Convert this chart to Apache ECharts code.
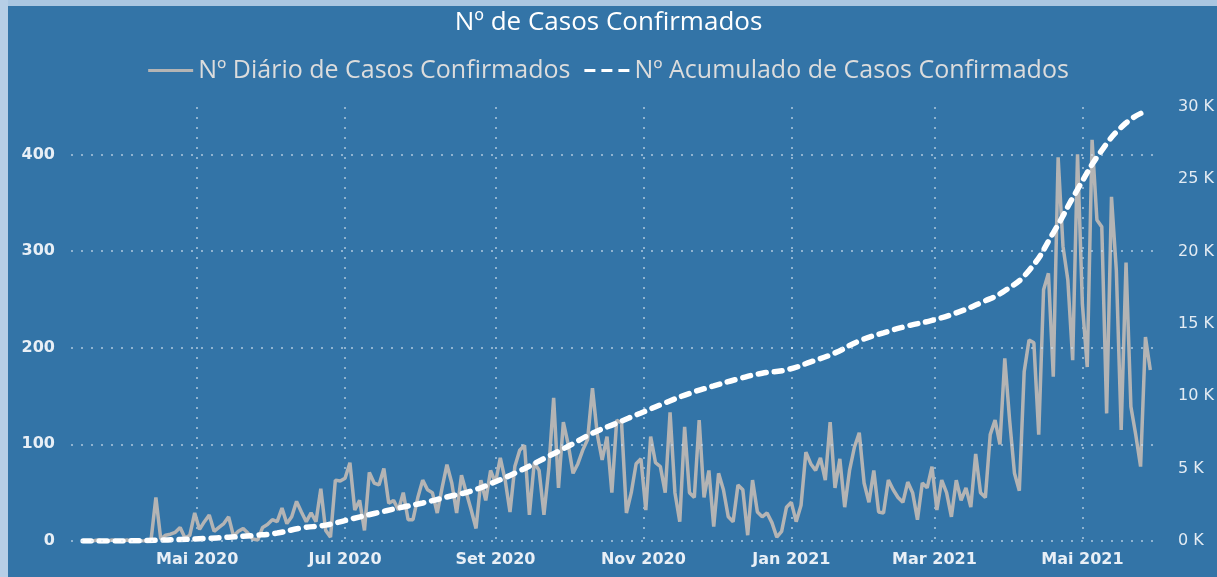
<!DOCTYPE html>
<html>
<head>
<meta charset="utf-8">
<title>Nº de Casos Confirmados</title>
<script src="https://cdn.jsdelivr.net/npm/echarts@6/dist/echarts.min.js"></script>
<style>
  html, body { margin: 0; padding: 0; background: #3374a7; }
  #chart { width: 1217px; height: 577px; }
</style>
</head>
<body>
<div id="chart"></div>
<script>
// daily cases, one value every 2 days starting 2020-03-15
const dailyStart = [2020, 2, 15]
const dailyStepDays = 2
const dailyValues = [
  0, 0, 0, 1, 0, 0, 1, 0, 0, 1, 0, 1, 0, 0, 1,
  45, 2, 6, 7, 9, 14, 3, 6, 29, 12, 20, 27, 10, 14, 18, 25, 5, 10,
  13, 8, 2, 1, 14, 17, 22, 20, 34, 18, 25, 41, 30, 20, 29, 20, 54, 11, 4,
  63, 62, 65, 81, 32, 42, 11, 71, 60, 58, 75, 39, 42, 32, 50, 22, 22, 45,
  63, 53, 50, 29, 55, 79, 60, 29, 68, 50, 32, 13, 63, 42, 73, 60, 86, 63,
  30, 77, 94, 99, 27, 81, 73, 27, 75, 148, 55, 123, 100, 70, 80, 94, 105,
  158, 110, 84, 108, 50, 125, 122, 29, 50, 80, 85, 32, 108, 81, 77, 50,
  133, 50, 20, 118, 50, 45, 125, 45, 73, 15, 70, 53, 25, 20, 58, 53, 6,
  63, 30, 25, 29, 19, 4, 10, 35, 40, 20, 37, 92, 80, 73, 86, 63, 123, 55,
  85, 35, 73, 97, 112, 60, 40, 73, 30, 29, 63, 53, 45, 40, 61, 50, 22,
  60, 55, 77, 32, 63, 50, 25, 63, 42, 55, 35, 90, 50, 45, 110, 125, 100,
  189, 125, 70, 52, 175, 208, 205, 110, 260, 277, 170, 397, 305, 270, 187,
  400, 245, 180, 415, 332, 325, 132, 356, 280, 115, 288, 139, 110, 77, 211, 177
]

// cumulative cases, read every 10 days
const cumDates = [
  '2020-03-15', '2020-03-25', '2020-04-04', '2020-04-14', '2020-04-24',
  '2020-05-04', '2020-05-14', '2020-05-24', '2020-06-03', '2020-06-13',
  '2020-06-23', '2020-07-03', '2020-07-13', '2020-07-23', '2020-08-02',
  '2020-08-12', '2020-08-22', '2020-09-01', '2020-09-11', '2020-09-21',
  '2020-10-01', '2020-10-11', '2020-10-21', '2020-10-31', '2020-11-10',
  '2020-11-20', '2020-11-30', '2020-12-10', '2020-12-20', '2020-12-30',
  '2021-01-09', '2021-01-19', '2021-01-29', '2021-02-08', '2021-02-18',
  '2021-02-28', '2021-03-10', '2021-03-20', '2021-03-30', '2021-04-09',
  '2021-04-19', '2021-04-29', '2021-05-09', '2021-05-19', '2021-05-27'
]
const cumValues = [
  0, 0, 10, 50, 100, 170, 260, 380, 550, 900,
  1100, 1500, 1900, 2280, 2630, 3040, 3460, 4100, 4850, 5700,
  6550, 7450, 8150, 8850, 9550, 10200, 10720, 11200, 11600, 11830,
  12380, 13000, 13830, 14390, 14870, 15250, 15770, 16460, 17300, 18700,
  21300, 24300, 27000, 28900, 29700
]

const leftTicks = [0, 100, 200, 300, 400]
const monthNames = ['Jan', 'Fev', 'Mar', 'Abr', 'Mai', 'Jun', 'Jul', 'Ago', 'Set', 'Out', 'Nov', 'Dez']

const dailyName = 'Nº Diário de Casos Confirmados'
const cumName = 'Nº Acumulado de Casos Confirmados'

const dailyData = dailyValues.map((v, i) => [
  new Date(dailyStart[0], dailyStart[1], dailyStart[2] + i * dailyStepDays).getTime(), v
])
const cumData = cumDates.map((d, i) => [d, cumValues[i]])

const gridDots = { type: [2, 8], color: 'rgba(215,228,240,0.75)', width: 1.5 }

const chart = echarts.init(document.getElementById('chart'), null, { renderer: 'canvas' })

chart.setOption({
  backgroundColor: '#3374a7',
  animation: false,
  graphic: [
    { type: 'rect', shape: { x: 0, y: 0, width: 1217, height: 6 }, style: { fill: '#aac6e1' }, silent: true },
    { type: 'rect', shape: { x: 0, y: 0, width: 8, height: 577 }, style: { fill: '#b6cee6' }, silent: true }
  ],
  title: {
    text: 'Nº de Casos Confirmados',
    left: 'center',
    top: 5,
    textStyle: { color: '#ffffff', fontFamily: 'Open Sans', fontSize: 26, fontWeight: 'normal' }
  },
  legend: {
    top: 53,
    left: 'center',
    itemWidth: 45,
    itemHeight: 3,
    itemGap: 14,
    textStyle: { color: '#dcdcdc', fontFamily: 'Open Sans', fontSize: 25 },
    data: [
      { name: dailyName, icon: 'path://M0 0H45V3H0Z' },
      { name: cumName, icon: 'path://M0 0H11V3H0Z M17 0H28V3H17Z M34 0H45V3H34Z' }
    ]
  },
  grid: { left: 71, right: 57, top: 107, bottom: 36 },
  xAxis: {
    type: 'time',
    min: '2020-03-10',
    max: '2021-06-02',
    minInterval: 63 * 86400000,
    maxInterval: 63 * 86400000,
    axisLine: { show: false },
    axisTick: { show: false },
    splitLine: { show: true, showMinLine: false, showMaxLine: false, lineStyle: gridDots },
    axisLabel: {
      color: '#e8eff6',
      fontFamily: 'DejaVu Sans',
      fontWeight: 'bold',
      fontSize: 16,
      margin: 11,
      formatter: (val) => {
        const d = new Date(val)
        return monthNames[d.getMonth()] + ' ' + d.getFullYear()
      }
    }
  },
  yAxis: [
    {
      type: 'value',
      min: 0,
      max: 449,
      interval: 100,
      axisLine: { show: false },
      axisTick: { show: false },
      splitLine: { show: false },
      axisLabel: {
        color: '#e8eff6',
        fontFamily: 'DejaVu Sans',
        fontWeight: 'bold',
        fontSize: 16,
        margin: 16,
        formatter: (v) => (v % 100 === 0 ? String(v) : '')
      }
    },
    {
      type: 'value',
      position: 'right',
      min: 0,
      max: 30000,
      interval: 5000,
      axisLine: { show: false },
      axisTick: { show: false },
      splitLine: { show: false },
      axisLabel: {
        color: '#e3ebf3',
        fontFamily: 'DejaVu Sans',
        fontSize: 16,
        margin: 18,
        formatter: (v) => (v / 1000) + ' K'
      }
    }
  ],
  series: [
    {
      name: dailyName,
      type: 'line',
      yAxisIndex: 0,
      data: dailyData,
      showSymbol: false,
      symbol: 'none',
      lineStyle: { color: '#b4b4b4', width: 3.5 },
      itemStyle: { color: '#b4b4b4' },
      z: 2,
      markLine: {
        silent: true,
        symbol: ['none', 'none'],
        label: { show: false },
        lineStyle: gridDots,
        data: leftTicks.map((t) => ({ yAxis: t }))
      }
    },
    {
      name: cumName,
      type: 'line',
      yAxisIndex: 1,
      data: cumData,
      smooth: true,
      showSymbol: false,
      symbol: 'none',
      lineStyle: { color: '#ffffff', width: 5.5, type: [8, 8], cap: 'round' },
      itemStyle: { color: '#ffffff' },
      z: 3
    }
  ]
})
</script>
</body>
</html>
